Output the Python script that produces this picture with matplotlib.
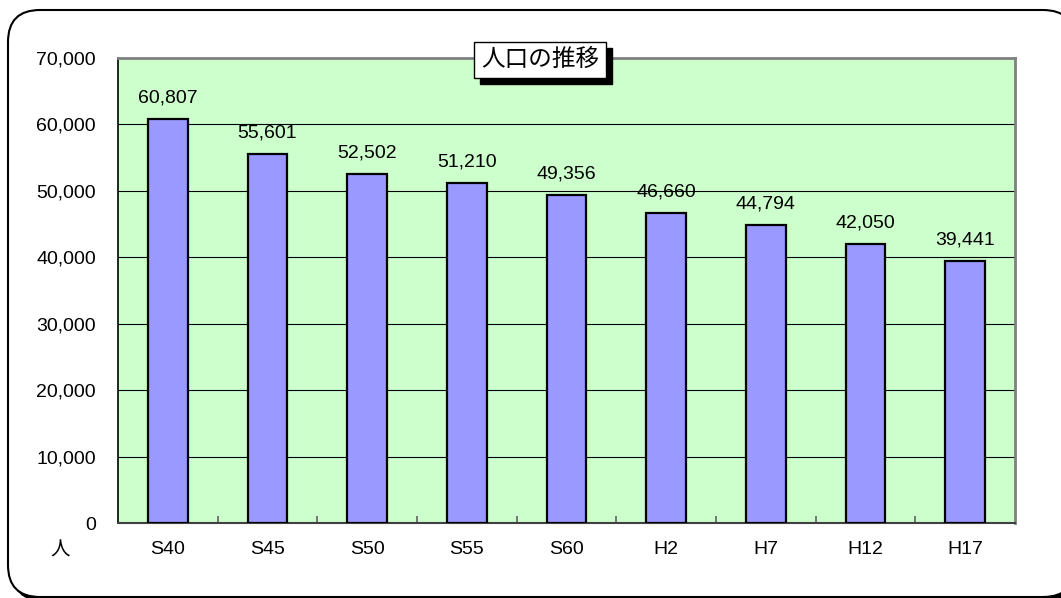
import matplotlib
matplotlib.use("Agg")
import matplotlib.pyplot as plt
from matplotlib.patches import FancyBboxPatch, Rectangle

plt.rcParams['font.family'] = ['Liberation Sans', 'Noto Sans CJK JP', 'DejaVu Sans']

# data
years = ['S40', 'S45', 'S50', 'S55', 'S60', 'H2', 'H7', 'H12', 'H17']
population = [60807, 55601, 52502, 51210, 49356, 46660, 44794, 42050, 39441]
yticks = list(range(0, 70001, 10000))
title = '人口の推移'
unit = '人'

W, H = 1061, 598
fig = plt.figure(figsize=(W / 100, H / 100), dpi=100)

# background frame (pixel coordinates)
bg = fig.add_axes([0, 0, 1, 1], zorder=0)
bg.set_xlim(0, W)
bg.set_ylim(H, 0)
bg.axis('off')
bg.add_patch(FancyBboxPatch((12, 14), 1067, 587, boxstyle='round,pad=0,rounding_size=32',
                            facecolor='black', edgecolor='black', zorder=0))
bg.add_patch(FancyBboxPatch((8, 10), 1067, 587, boxstyle='round,pad=0,rounding_size=32',
                            facecolor='white', edgecolor='black', linewidth=1.5, zorder=1))

# main plot area
ax = fig.add_axes([118 / W, 1 - 523 / H, (1015 - 118) / W, (523 - 58) / H], zorder=2)
ax.set_facecolor('#CCFFCC')
x = list(range(len(years)))
ax.bar(x, population, width=0.4, color='#9999FF', edgecolor='black', linewidth=1.6, zorder=3)
for xi, v in zip(x, population):
    ax.annotate(f'{v:,}', (xi, v), xytext=(0, 9), textcoords='offset points',
                ha='center', va='bottom', fontsize=14)

ax.set_xlim(-0.5, len(years) - 0.5)
ax.set_ylim(0, 70000)
ax.set_yticks(yticks)
ax.set_yticklabels([f'{t:,}' for t in yticks], fontsize=14)
ax.tick_params(axis='y', length=0, pad=16)
ax.yaxis.grid(True, color='black', linewidth=0.8, zorder=1)
ax.set_axisbelow(True)

# category labels in the middle, ticks on the boundaries
ax.set_xticks(x)
ax.set_xticklabels(years, fontsize=14)
ax.tick_params(axis='x', which='major', length=0, pad=13)
ax.set_xticks([i - 0.5 for i in range(1, len(years))], minor=True)
ax.tick_params(axis='x', which='minor', direction='in', length=5, color='#606060', width=1.2)

ax.spines['left'].set_color('black')
ax.spines['left'].set_linewidth(1.2)
ax.spines['bottom'].set_color('#404040')
ax.spines['bottom'].set_linewidth(1.5)
for s in ['top', 'right']:
    ax.spines[s].set_color('#808080')
    ax.spines[s].set_linewidth(2)

# overlay for title box and unit label
ov = fig.add_axes([0, 0, 1, 1], zorder=5)
ov.set_xlim(0, W)
ov.set_ylim(H, 0)
ov.axis('off')
ov.patch.set_alpha(0)

ov.add_patch(Rectangle((480, 48), 132, 36, facecolor='black', edgecolor='black', zorder=2))
ov.add_patch(Rectangle((474, 42), 132, 36, facecolor='white', edgecolor='black', linewidth=1, zorder=3))
ov.text(540, 60, title, ha='center', va='center', fontsize=17, zorder=4)

ov.text(60, 551, unit, ha='center', va='center', fontsize=14)

fig.savefig('out.png', dpi=100)
